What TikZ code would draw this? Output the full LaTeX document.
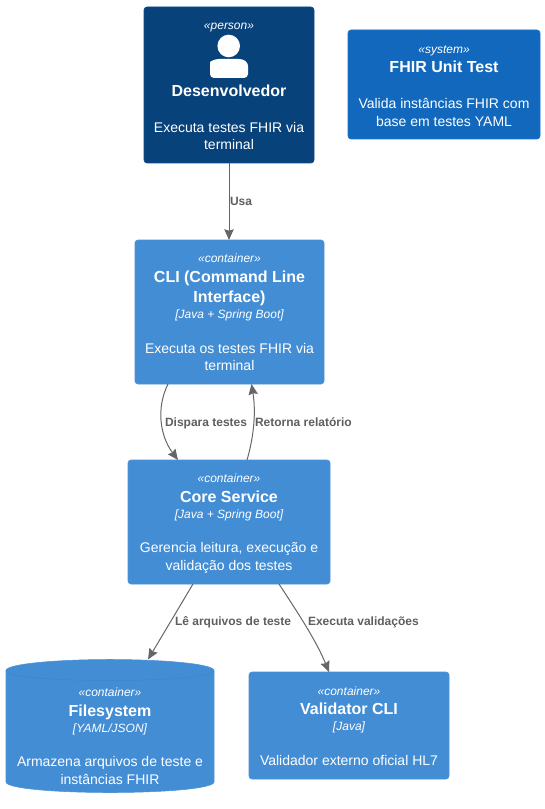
\documentclass[tikz,border=0pt]{standalone}
\usepackage{fontspec}
\setmainfont{Liberation Sans}
\usetikzlibrary{arrows.meta,calc}
\definecolor{personblue}{HTML}{08427B}
\definecolor{personedge}{HTML}{0A4C8C}
\definecolor{systemblue}{HTML}{1168BD}
\definecolor{systemedge}{HTML}{1A72C8}
\definecolor{contblue}{HTML}{438DD5}
\definecolor{contedge}{HTML}{4C93D8}
\definecolor{cylline}{HTML}{3F86CB}
\definecolor{linkgray}{HTML}{666666}
\definecolor{labelgray}{HTML}{5F5F5F}
\tikzset{
  every node/.style={inner sep=0pt,outer sep=0pt},
  boxbase/.style={rectangle,rounded corners=2.2pt,line width=.4pt},
  personbox/.style={boxbase,fill=personblue,draw=personedge},
  systembox/.style={boxbase,fill=systemblue,draw=systemedge},
  contbox/.style={boxbase,fill=contblue,draw=contedge},
  stereo/.style={anchor=base,text=white,font=\fontsize{9}{11}\selectfont\itshape},
  boxtitle/.style={anchor=base,text=white,font=\fontsize{12}{14}\selectfont\bfseries},
  techline/.style={anchor=base,text=white,font=\fontsize{9}{11}\selectfont\itshape},
  descline/.style={anchor=base,text=white,font=\fontsize{10.5}{13}\selectfont},
  linklabel/.style={anchor=base west,text=labelgray,font=\fontsize{9}{11}\selectfont\bfseries},
  conn/.style={draw=linkgray,line width=.75pt,-{Stealth[length=8pt,width=7pt,inset=1pt]}},
}
\begin{document}
\begin{tikzpicture}[x=.75pt,y=-.75pt]
\useasboundingbox (0,0) rectangle (545,809);
\fill[white] (0,0) rectangle (545,809);

% Boxes
\node[personbox,minimum width=127.5pt,minimum height=117pt] (dev) at (229,85) {};
\node[systembox,minimum width=144pt,minimum height=81.75pt] (sys) at (444,84.5) {};
\node[contbox,minimum width=141.75pt,minimum height=108pt] (cli) at (229.5,312) {};
\node[contbox,minimum width=151.5pt,minimum height=93pt] (core) at (229,522) {};
\node[contbox,minimum width=150pt,minimum height=80.25pt] (val) at (349,725.5) {};

% Filesystem cylinder
\node[minimum width=156pt,minimum height=99.75pt] (fs) at (110,726) {};
\draw[fill=contblue,draw=contedge,line width=.4pt]
  (6,670.5) .. controls (6,664) and (56,659.5) .. (110,659.5)
  .. controls (164,659.5) and (214,664) .. (214,670.5)
  -- (214,782) .. controls (214,788.5) and (164,792.5) .. (110,792.5)
  .. controls (56,792.5) and (6,788.5) .. (6,782) -- cycle;
\draw[draw=cylline,line width=.4pt]
  (6,670.5) .. controls (6,677) and (56,680.5) .. (110,680.5)
  .. controls (164,680.5) and (214,677) .. (214,670.5);

% Person icon
\fill[white] (228.7,46) circle[radius=11.3];
\fill[white] (210,78) [rounded corners=3pt] -- (210,66) [rounded corners=0pt]
  .. controls (210,62) and (214,59) .. (219,59) -- (239,59)
  .. controls (244,59) and (248,62) .. (248,66) [rounded corners=3pt] -- (248,78) -- cycle;

% Person text
\node[stereo] (devs) at (229,29.5) {«person»};
\node[boxtitle] (devt) at (229,97) {Desenvolvedor};
\node[descline] (devd1) at (229,132.5) {Executa testes FHIR via};
\node[descline] (devd2) at (229,150) {terminal};

% System text
\node[stereo] (syss) at (444,53.5) {«system»};
\node[boxtitle] (syst) at (444,73) {FHIR Unit Test};
\node[descline] (sysd1) at (444,108.5) {Valida instâncias FHIR com};
\node[descline] (sysd2) at (444,126.5) {base em testes YAML};

% CLI text
\node[stereo] (clis) at (229.5,262) {«container»};
\node[boxtitle] (clit1) at (229.5,282) {CLI (Command Line};
\node[boxtitle] (clit2) at (229.5,302) {Interface)};
\node[techline] (clitech) at (229.5,318) {[Java + Spring Boot]};
\node[descline] (clid1) at (229.5,353) {Executa os testes FHIR via};
\node[descline] (clid2) at (229.5,370.5) {terminal};

% Core text
\node[stereo] (cores) at (229,482) {«container»};
\node[boxtitle] (coret) at (229,502) {Core Service};
\node[techline] (coretech) at (229,518) {[Java + Spring Boot]};
\node[descline] (cored1) at (229,552) {Gerencia leitura, execução e};
\node[descline] (cored2) at (229,570) {validação dos testes};

% Filesystem text
\node[stereo] (fss) at (110,696) {«container»};
\node[boxtitle] (fst) at (110,716) {Filesystem};
\node[techline] (fstech) at (110,732) {[YAML/JSON]};
\node[descline] (fsd1) at (110,766) {Armazena arquivos de teste e};
\node[descline] (fsd2) at (110,784) {instâncias FHIR};

% Validator text
\node[stereo] (vals) at (349,695) {«container»};
\node[boxtitle] (valt) at (349,714) {Validator CLI};
\node[techline] (valtech) at (349,730) {[Java]};
\node[descline] (vald) at (349,765) {Validador externo oficial HL7};

% Connectors
\draw[conn] (dev.south) -- (dev.south |- cli.north);
\draw[conn] ($(cli.south)+(-61.5,0)$) .. controls (156,408) and (160,436) .. ($(core.north)+(-51,0)$);
\draw[conn] ($(core.north)+(18,0)$) .. controls (254,436) and (256,412) .. ($(cli.south)+(22,0)$);
\draw[conn] ($(core.south)+(-36,0)$) -- ($(fs.north)+(38,0)$);
\draw[conn] ($(core.south)+(50,0)$) .. controls (296,610) and (316,640) .. ($(val.north)+(-20,0)$);

% Connector labels
\node[linklabel] (l1) at (230,205.5) {Usa};
\node[linklabel] (l2) at (165,426) {Dispara testes};
\node[linklabel] (l3) at (255,426) {Retorna relatório};
\node[linklabel] (l4) at (175,625.5) {Lê arquivos de teste};
\node[linklabel] (l5) at (308,625.5) {Executa validações};
\end{tikzpicture}
\end{document}
